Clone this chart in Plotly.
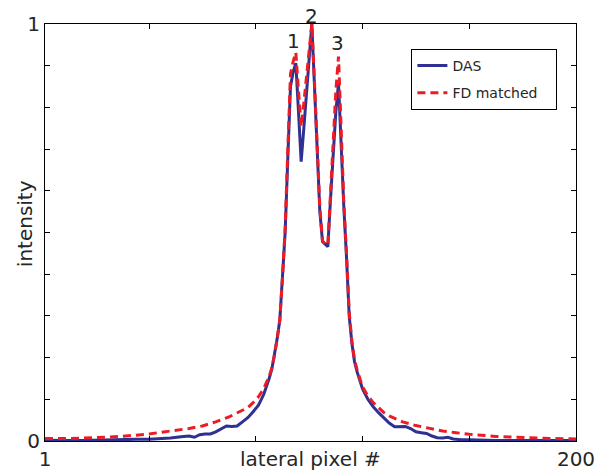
import plotly.graph_objects as go

# ---- data ----
das_x = [1, 5, 10, 15, 20, 25, 30, 35, 40, 44, 48, 52, 55, 57, 59, 61, 63, 65, 67, 69, 71, 73, 75, 77, 79,
         81, 83, 84, 85, 86, 87, 88, 89, 90, 91, 92, 93, 94, 95, 96, 97, 98, 99, 100, 101, 102, 103, 104,
         105, 106, 107, 108, 109, 110, 111, 112, 113, 114, 115, 116, 117, 118, 119, 120, 122, 124, 126,
         128, 130, 132, 134, 136, 138, 140, 142, 144, 146, 148, 150, 152, 154, 157, 160, 165, 170, 180,
         190, 200]
das_y = [0.002, 0.001, 0.001, 0.001, 0.002, 0.002, 0.003, 0.004, 0.004, 0.005, 0.007, 0.010, 0.012, 0.009,
         0.015, 0.017, 0.017, 0.022, 0.030, 0.036, 0.035, 0.036, 0.046, 0.056, 0.070,
         0.086, 0.112, 0.130, 0.150, 0.172, 0.205, 0.245, 0.290, 0.390, 0.500, 0.680, 0.850, 0.885, 0.906,
         0.790, 0.670, 0.750, 0.830, 0.920, 1.000, 0.850, 0.700, 0.550,
         0.478, 0.472, 0.466, 0.580, 0.700, 0.790, 0.858, 0.700, 0.560, 0.440, 0.300, 0.235, 0.190, 0.165,
         0.145, 0.125, 0.100, 0.082, 0.068,
         0.056, 0.043, 0.034, 0.035, 0.035, 0.030, 0.022, 0.020, 0.018, 0.012, 0.008, 0.007, 0.009, 0.005,
         0.003, 0.003, 0.002, 0.001, 0.001, 0.001, 0.001]

fd_x = [1, 10, 20, 30, 40, 50, 55, 60, 65, 70, 74, 77, 79, 81, 83, 84, 85, 86, 87, 88, 89, 90, 91, 92, 93,
        94, 95, 96, 97, 98, 99, 100, 101, 102, 103, 104, 105, 106, 107, 108, 109, 110, 111, 112, 113, 114,
        115, 116, 117, 118, 119, 120, 122, 124, 126, 128, 130, 135, 140, 145, 150, 155, 160, 170, 180,
        190, 200]
fd_y = [0.006, 0.006, 0.008, 0.011, 0.017, 0.025, 0.030, 0.036, 0.046, 0.058, 0.070, 0.080, 0.092, 0.106,
        0.126, 0.140, 0.155, 0.175, 0.205, 0.245, 0.290, 0.390, 0.510, 0.700, 0.880,
        0.910, 0.932, 0.840, 0.754, 0.810, 0.870, 0.935, 1.000, 0.860, 0.710, 0.560, 0.480, 0.472, 0.470,
        0.600, 0.730, 0.840, 0.922, 0.720, 0.570, 0.450,
        0.310, 0.240, 0.195, 0.170, 0.150, 0.130, 0.108, 0.092, 0.080, 0.068, 0.060, 0.046, 0.037, 0.030,
        0.024, 0.020, 0.016, 0.011, 0.008, 0.006, 0.005]

x_tickvals = [1, 40, 80, 120, 160, 200]
x_ticktext = ["1", "", "", "", "", "200"]
y_tickvals = [0, 0.1, 0.2, 0.3, 0.4, 0.5, 0.6, 0.7, 0.8, 0.9, 1.0]
y_ticktext = ["0", "", "", "", "", "", "", "", "", "", "1"]

peak_labels = ["1", "2", "3"]
peak_x = [94, 101, 110.8]
peak_y = [0.96, 1.019, 0.955]

FONT = "DejaVu Sans"
TXT = "#262626"

fig = go.Figure()
fig.add_trace(go.Scatter(x=das_x, y=das_y, mode="lines", name="DAS", legendgroup="a",
                         line=dict(color="#2E3192", width=3)))
fig.add_trace(go.Scatter(x=fd_x, y=fd_y, mode="lines", name="FD matched\u00a0\u00a0\u00a0",
                         legendgroup="b",
                         line=dict(color="#ED1C24", width=3, dash="8px,5px")))

# y range is [0, 1], so paper y equals the data value; paper ref keeps "2" visible above the axes
for lab, px, py in zip(peak_labels, peak_x, peak_y):
    fig.add_annotation(x=px, y=py, xref="x", yref="paper", text=lab, showarrow=False,
                       xanchor="center", yanchor="middle", height=16, valign="middle",
                       font=dict(family=FONT, size=20, color=TXT))

fig.add_annotation(xref="paper", yref="paper", x=0.5, y=0, yshift=-18, xanchor="center", yanchor="middle",
                   text="lateral pixel #", showarrow=False, font=dict(family=FONT, size=20, color=TXT))
fig.add_annotation(xref="paper", yref="paper", x=0, y=0.52, xshift=-20, xanchor="center", yanchor="middle",
                   text="intensity", textangle=-90,
                   showarrow=False, font=dict(family=FONT, size=20, color=TXT))

axis_common = dict(showgrid=False, zeroline=False, showline=True, linecolor="black", linewidth=1,
                   mirror="ticks", ticks="inside", ticklen=5, tickcolor="black", automargin=False,
                   tickfont=dict(family=FONT, size=20, color=TXT))
fig.update_xaxes(range=[1, 200], tickmode="array", tickvals=x_tickvals, ticktext=x_ticktext, **axis_common)
fig.update_yaxes(range=[0, 1], tickmode="array", tickvals=y_tickvals, ticktext=y_ticktext, **axis_common)

# the page body adds an 8px offset, so the figure is 8px smaller and margins shifted
fig.update_layout(
    width=608, height=465,
    margin=dict(l=37, r=40, t=16, b=32, autoexpand=False),
    paper_bgcolor="white", plot_bgcolor="white",
    showlegend=True,
    legend=dict(x=0.69, y=0.94, xanchor="left", yanchor="top",
                bordercolor="black", borderwidth=1, bgcolor="white",
                font=dict(family=FONT, size=14, color=TXT), tracegroupgap=6),
    font=dict(family=FONT, color=TXT),
)

fig.write_html("out.html")
